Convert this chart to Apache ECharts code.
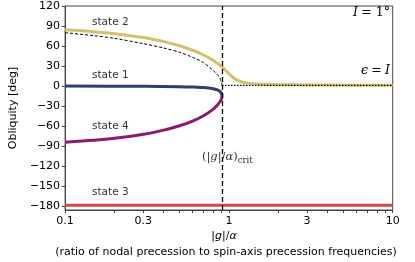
<!DOCTYPE html>
<html>
<head>
<meta charset="utf-8">
<script src="https://cdn.jsdelivr.net/npm/echarts@6/dist/echarts.min.js"></script>
<style>html,body{margin:0;padding:0;background:#fff}#c{width:415px;height:262px}</style>
</head>
<body>
<div id="c"></div>
<script>
// ---- data (x = |g|/alpha, y = obliquity in degrees) ----
const state2X = [0.1, 0.15, 0.2, 0.3, 0.4, 0.5, 0.6, 0.7, 0.8, 0.85, 0.9, 0.95, 1.0, 1.05, 1.1, 1.2, 1.3, 1.5, 2, 3, 5, 10];
const state2Y = [84.3, 81.4, 78.5, 72.7, 66.6, 60.4, 53.6, 46.5, 38.5, 34, 29.4, 24, 18.3, 13.5, 10, 6, 4.3, 3, 2, 1.5, 1.25, 1.1];
const state1X = [0.1, 0.3, 0.5, 0.6, 0.7, 0.8, 0.85, 0.88, 0.9, 0.905, 0.907];
const state1Y = [-0.1, -0.4, -1, -1.5, -2.3, -4, -5.8, -8, -10.8, -12.2, -14.5];
const state4X = [0.1, 0.15, 0.2, 0.3, 0.4, 0.5, 0.6, 0.7, 0.8, 0.85, 0.88, 0.9, 0.905, 0.907];
const state4Y = [-84.2, -81.3, -78.4, -72.5, -66.2, -59.7, -52.6, -44.6, -35, -28.7, -24, -19.8, -17, -14.5];
const state3X = [0.1, 1, 10];
const state3Y = [-179, -179, -179];
const dashX = [0.1, 0.15, 0.2, 0.3, 0.4, 0.5, 0.6, 0.7, 0.8, 0.85, 0.88, 0.9, 0.907];
const dashY = [80, 75.5, 71.5, 63.5, 57, 50.5, 43, 35, 23.5, 17, 12, 6, 0.5];
const dottedX = [0.907, 10];
const dottedY = [1, 1];
const critX = 0.907;
const xTickLabels = [0.1, 0.3, 1, 3, 10];
const xMinorTicks = [0.2, 0.3, 0.4, 0.5, 0.6, 0.7, 0.8, 0.9, 2, 3, 4, 5, 6, 7, 8, 9];
const yTicks = [-180, -150, -120, -90, -60, -30, 0, 30, 60, 90, 120];

const lg = v => Math.log10(v);
const pairs = (xs, ys) => xs.map((x, i) => [lg(x), ys[i]]);

const chart = echarts.init(document.getElementById('c'), null, {renderer: 'canvas'});
const font = 'DejaVu Sans';
const serif = 'DejaVu Serif';
const line = (name, xs, ys, color, width, type, z) => ({
  type: 'line', name, data: pairs(xs, ys), showSymbol: false, symbol: 'none',
  smooth: 0.3, z: z || 2, silent: true,
  lineStyle: {color, width, type: type || 'solid', cap: 'butt'}
});

chart.setOption({
  animation: false,
  backgroundColor: '#fff',
  grid: {left: 57, top: 6, right: 22.3, bottom: 52, show: true, borderColor: '#444', borderWidth: 1, backgroundColor: 'transparent'},
  xAxis: {
    type: 'value', min: -1, max: 1,
    axisLine: {show: true, onZero: false, lineStyle: {color: '#444', width: 1}},
    splitLine: {show: false},
    axisTick: {show: true, inside: false, length: 3, lineStyle: {color: '#444'},
      customValues: [-1, 0, 1].concat(xMinorTicks.map(lg))},
    axisLabel: {show: true, margin: 6, fontFamily: font, fontSize: 11, color: '#000',
      customValues: xTickLabels.map(lg),
      formatter: v => { const r = Math.pow(10, v); return String(Math.round(r * 10) / 10); }}
  },
  yAxis: {
    type: 'value', min: -186, max: 120,
    name: 'Obliquity [deg]', nameLocation: 'middle', nameGap: 40,
    nameTextStyle: {fontFamily: font, fontSize: 11, color: '#000'},
    axisLine: {show: true, onZero: false, lineStyle: {color: '#444', width: 1}},
    splitLine: {show: false},
    axisTick: {show: true, inside: false, length: 3.5, lineStyle: {color: '#444'}, customValues: yTicks},
    axisLabel: {show: true, margin: 5, fontFamily: font, fontSize: 11, color: '#000', customValues: yTicks,
      formatter: v => (v < 0 ? '\u2212' + (-v) : String(v))}
  },
  series: [
    line('state 3', state3X, state3Y, '#d8434e', 3),
    line('state 4', state4X, state4Y, '#8c1a6a', 3),
    line('state 1', state1X, state1Y, '#2f3f6d', 3),
    line('state 2', state2X, state2Y, '#d4c06a', 3),
    line('dashed', dashX, dashY, '#000', 1, [3, 2], 5),
    Object.assign(line('dotted', dottedX, dottedY, '#000', 1.2, [1.5, 1.5], 6), {
      smooth: false,
      markLine: {silent: true, symbol: 'none', label: {show: false},
        lineStyle: {color: '#000', width: 1.3, type: [5, 3]},
        data: [{xAxis: lg(critX)}]}
    })
  ],
  graphic: [
    {type: 'text', left: 92, top: 17, style: {text: 'state 2', fontFamily: font, fontSize: 10.5, fill: '#333'}},
    {type: 'text', left: 92, top: 70, style: {text: 'state 1', fontFamily: font, fontSize: 10.5, fill: '#333'}},
    {type: 'text', left: 92, top: 121, style: {text: 'state 4', fontFamily: font, fontSize: 10.5, fill: '#333'}},
    {type: 'text', left: 92, top: 187, style: {text: 'state 3', fontFamily: font, fontSize: 10.5, fill: '#333'}},
    {type: 'text', right: 25, top: 6, style: {
      text: '{i|I} {n|= 1°}', rich: {i: {fontFamily: serif, fontStyle: 'italic', fontSize: 12.5, fill: '#000'}, n: {fontFamily: serif, fontSize: 12.5, fill: '#000'}}}},
    {type: 'text', right: 25, top: 64, style: {
      text: '{i|ϵ} {n|=} {i|I}', rich: {i: {fontFamily: serif, fontStyle: 'italic', fontSize: 12.5, fill: '#000'}, n: {fontFamily: serif, fontSize: 12.5, fill: '#000'}}}},
    {type: 'text', left: 202, top: 151, style: {
      text: '{n|(|}{i|g}{n||/}{i|α}{n|)}{s|crit}',
      rich: {n: {fontFamily: serif, fontSize: 11.5, fill: '#333'}, i: {fontFamily: serif, fontStyle: 'italic', fontSize: 11.5, fill: '#333'},
             s: {fontFamily: serif, fontSize: 8.5, fill: '#333', padding: [7, 0, 0, 0]}}}},
    {type: 'text', x: 224, y: 231, style: {
      text: '{n||}{i|g}{n||/}{i|α}', align: 'center',
      rich: {n: {fontFamily: font, fontSize: 11, fill: '#000'}, i: {fontFamily: font, fontStyle: 'italic', fontSize: 11, fill: '#000'}}}},
    {type: 'text', x: 226, y: 247, style: {text: '(ratio of nodal precession to spin-axis precession frequencies)', align: 'center', fontFamily: font, fontSize: 11, fill: '#000'}}
  ]
});
</script>
</body>
</html>
